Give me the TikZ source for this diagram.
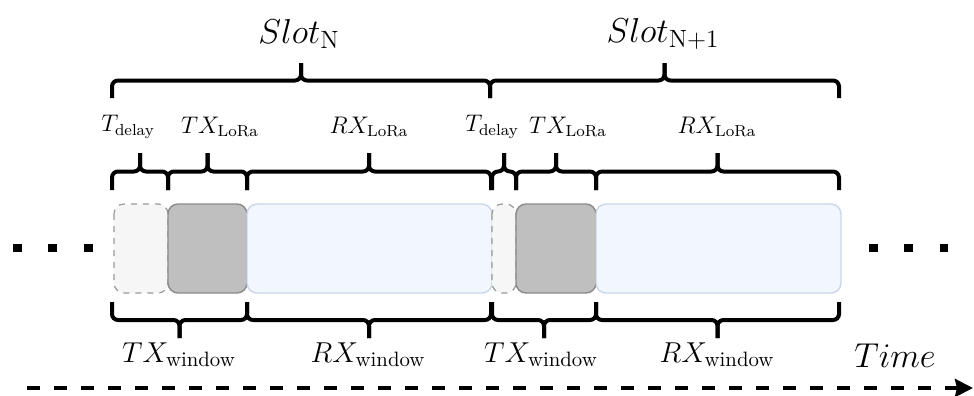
\documentclass[tikz,border=0pt]{standalone}
\usepackage{amsmath}
\usepackage{xcolor}
\usepackage{tikz}
\usetikzlibrary{arrows.meta}
\definecolor{delayfill}{HTML}{F6F6F6}
\definecolor{delaydraw}{HTML}{9A9A9A}
\definecolor{txfill}{HTML}{BFBFBF}
\definecolor{txdraw}{HTML}{8A8A8A}
\definecolor{rxfill}{HTML}{F2F6FD}
\definecolor{rxdraw}{HTML}{C9D6EB}
\tikzstyle{delaybox} = [fill=delayfill,draw=delaydraw,dashed,line width=0.6pt,rounded corners=5pt]
\tikzstyle{txbox} = [fill=txfill,draw=txdraw,line width=0.7pt,rounded corners=5pt]
\tikzstyle{rxbox} = [fill=rxfill,draw=rxdraw,line width=0.7pt,rounded corners=5pt]
\tikzstyle{braceline} = [line width=2pt,rounded corners=3pt]
\tikzstyle{dots} = [line width=4pt,dash pattern=on 4.5pt off 13.25pt]
\tikzstyle{timeline} = [line width=2pt,dash pattern=on 6.5pt off 7pt,-{Stealth[length=9pt,width=9pt,inset=1pt]}]
\tikzstyle{slotlabel} = [font=\fontsize{16.7}{20}\selectfont]
\tikzstyle{partlabel} = [font=\fontsize{12}{14}\selectfont]
\tikzstyle{winlabel} = [font=\fontsize{14.4}{17}\selectfont]
% subscript set at a given text size
\newcommand{\subsz}[2]{_{\mbox{\fontsize{#1}{#1}\selectfont #2}}}
% brace: left x, right x, end y, tip y
\newcommand{\hbrace}[4]{%
	\draw[braceline] (#1,#3) -- (#1,{(#3+#4)/2}) -- ({(#1+#2)/2},{(#3+#4)/2}) -- ({(#1+#2)/2},#4);
	\draw[braceline] (#2,#3) -- (#2,{(#3+#4)/2}) -- ({(#1+#2)/2},{(#3+#4)/2}) -- ({(#1+#2)/2},#4);
}

\begin{document}
\begin{tikzpicture}[x=0.5pt,y=-0.5pt]
	\useasboundingbox (0,0) rectangle (974,396);

	% slot N
	\draw[delaybox] (114,204) rectangle (168,293);
	\draw[txbox] (168,204) rectangle (247,293);
	\draw[rxbox] (247,204) rectangle (492,293);

	% slot N+1
	\draw[delaybox] (492,204) rectangle (516,293);
	\draw[txbox] (516,204) rectangle (596,293);
	\draw[rxbox] (596,204) rectangle (841,293);

	\draw[dots] (12.5,248) -- (92.5,248);
	\draw[dots] (868.5,248) -- (947.5,248);

	% braces on top
	\hbrace{112}{490}{98}{63}
	\hbrace{490}{839}{98}{63}
	\hbrace{112}{168}{190}{153}
	\hbrace{168}{247}{190}{153}
	\hbrace{247}{491}{190}{153}
	\hbrace{492}{516}{190}{153}
	\hbrace{516}{596}{190}{153}
	\hbrace{596}{839}{190}{153}

	% braces below
	\hbrace{112}{247}{302}{338}
	\hbrace{247}{491}{302}{338}
	\hbrace{492}{596}{302}{338}
	\hbrace{596}{839}{302}{338}

	\node[slotlabel] (slotN) at (299,34) {$Slot\subsz{12.5}{N}$};
	\node[slotlabel] (slotNN) at (663,34) {$Slot\subsz{12.5}{N+1}$};

	\node[partlabel] (delayA) at (128,127) {$T\subsz{8}{delay}$};
	\node[partlabel] (txA) at (220,127) {$TX\subsz{8}{LoRa}$};
	\node[partlabel] (rxA) at (369,127) {$RX\subsz{8}{LoRa}$};
	\node[partlabel] (delayB) at (492,127) {$T\subsz{8}{delay}$};
	\node[partlabel] (txB) at (568,127) {$TX\subsz{8}{LoRa}$};
	\node[partlabel] (rxB) at (717,127) {$RX\subsz{8}{LoRa}$};

	\node[winlabel] (winA) at (179,355) {$TX\subsz{10.4}{window}$};
	\node[winlabel] (winB) at (368,355) {$RX\subsz{10.4}{window}$};
	\node[winlabel] (winC) at (541,355) {$TX\subsz{10.4}{window}$};
	\node[winlabel] (winD) at (717,355) {$RX\subsz{10.4}{window}$};
	\node[font=\fontsize{16}{19}\selectfont] (time) at (895,356) {$Time$};

	\coordinate (t0) at (27,388);
	\coordinate (t1) at (973,388);
	\draw[timeline] (t0) -- (t1);
\end{tikzpicture}
\end{document}
